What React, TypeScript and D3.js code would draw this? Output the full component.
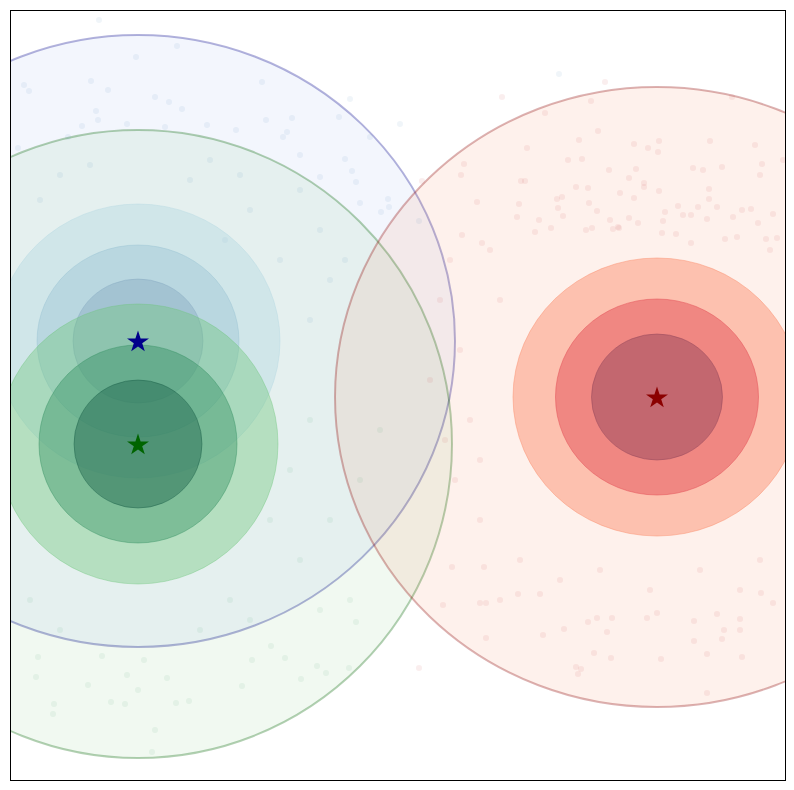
import React from "react";
import * as d3 from "d3";

// ---- data (data units) ----
const clusterNames = ["blue", "green", "red"];
const centersX = [1.28, 1.28, 6.47];
const centersY = [4.39, 3.36, 3.83];
// sigma rings [rx, ry] for 1,2,3
const ringsBlue = [[0.65, 0.62], [1.01, 0.96], [1.42, 1.37]];
const ringsGreen = [[0.64, 0.64], [0.99, 0.99], [1.40, 1.40]];
const ringsRed = [[0.655, 0.63], [1.015, 0.98], [1.44, 1.39]];
const outerRadii = [[3.17, 3.06], [3.14, 3.14], [3.22, 3.10]];

const blueX = [0.89,1.67,1.26,0.81,0.14,0.19,0.98,1.45,1.59,1.72,0.86,0.88,0.72,1.17,1.55,1.97,2.26,2.56,2.52,2.82,2.77,2.73,0.58,0.08,5.49,3.40,3.29,3.90,3.60,3.35,3.42,3.46,3.50,3.78,3.79,3.71,4.09,3.10,2.90,2.00,2.30,2.90,3.10,2.40,1.80,0.50,0.30,0.80,3.20,3.00,3.35,2.70,2.15];
const blueY = [7.60,7.34,7.23,6.99,6.95,6.89,6.90,6.83,6.78,6.71,6.69,6.60,6.54,6.56,6.53,6.55,6.50,6.60,6.98,6.62,6.48,6.43,6.43,6.32,7.06,6.81,6.63,6.56,6.43,6.21,6.09,5.98,5.77,5.81,5.73,5.68,5.59,6.03,6.25,6.20,6.05,5.90,5.50,5.70,6.00,6.05,5.80,6.15,5.00,4.60,5.20,5.20,5.40];
const greenX = [1.42,1.45,0.43,0.44,0.26,0.28,0.92,1.34,1.17,1.15,1.66,1.79,1.28,0.78,2.32,2.91,3.07,3.39,2.75,2.42,2.61,3.46,3.16,1.57,1.01,2.90,3.20,3.50,3.70,3.40,3.10,2.40,1.90,0.50,0.20,2.80,3.00,2.60,2.20];
const greenY = [0.28,0.50,0.66,0.76,1.03,1.23,1.24,1.20,1.05,0.76,0.77,0.79,0.90,0.95,0.94,1.01,1.14,1.12,1.22,1.20,1.34,1.58,1.07,1.02,0.78,2.20,2.60,3.00,3.50,1.80,1.70,1.60,1.50,1.50,1.80,3.10,3.60,2.60,1.80];
const redX = [5.95,4.92,5.35,5.81,7.22,5.88,5.69,6.24,6.38,6.49,6.48,7.00,7.45,7.52,7.50,7.12,6.83,6.93,6.26,6.19,5.99,5.72,5.58,5.17,4.54,4.51,4.12,4.67,5.11,5.15,5.66,5.78,6.10,6.34,6.34,6.49,6.99,6.99,6.24,7.73,7.63,7.32,7.41,6.88,7.07,6.68,6.55,6.73,6.81,6.97,7.23,7.48,6.53,6.28,6.19,6.09,6.00,5.79,5.87,5.47,5.52,5.48,5.53,5.29,5.41,5.25,5.07,5.09,4.52,4.72,5.76,5.82,6.03,6.08,6.52,6.66,7.15,7.27,7.56,7.67,6.81,
  6.97,6.51,6.01,5.68,5.66,5.71,5.84,7.32,6.97,6.84,7.12,7.14,7.30,7.30,7.07,6.84,6.47,6.37,5.97,5.54,5.33,5.78,5.87,6.02,7.63,7.51,5.08,5.30,4.09,4.42,4.74,4.33,4.70,4.76,4.76,
  4.30,4.50,4.60,4.45,4.70,4.20,4.90,4.80,5.10,5.50,5.90,6.90,7.50,7.60,4.70,4.35,4.90,6.40,7.30,4.40];
const redY = [6.98,6.83,6.67,6.79,6.83,6.49,6.40,6.36,6.32,6.39,6.28,6.39,6.35,6.16,6.05,6.13,6.12,6.10,6.11,6.02,6.10,6.21,6.20,6.32,6.16,6.05,5.99,5.78,5.99,5.99,5.93,5.92,5.87,5.97,5.93,5.89,5.91,5.81,5.82,6.20,5.66,5.70,5.71,5.73,5.73,5.74,5.68,5.65,5.65,5.61,5.63,5.57,5.59,5.57,5.62,5.52,5.60,5.77,5.69,5.81,5.83,5.72,5.64,5.60,5.52,5.48,5.63,5.76,5.45,5.37,5.50,5.52,5.51,5.53,5.47,5.46,5.41,5.43,5.41,5.42,5.37,
  0.87,1.21,1.22,1.06,1.13,1.11,1.27,1.23,1.26,1.39,1.41,1.50,1.50,1.61,1.66,1.59,1.67,1.62,1.48,1.51,1.45,1.58,1.62,1.62,1.77,1.87,1.86,1.86,1.12,2.13,2.13,1.75,1.77,1.77,1.42,
  4.80,4.30,3.60,3.00,2.60,4.00,4.80,5.30,2.20,2.00,2.10,2.10,2.20,5.30,3.20,3.40,1.80,1.90,1.90,5.20];

const W = 794, H = 790;
const M = { left: 10, top: 10, right: 785, bottom: 780 };

export default function App() {
  const x = d3.scaleLinear().domain([0, 7.75]).range([M.left, M.right]);
  const y = d3.scaleLinear().domain([0, 7.70]).range([M.bottom, M.top]);
  const sx = (r: number) => x(r) - x(0);
  const sy = (r: number) => y(0) - y(r);

  const rings = [ringsBlue, ringsGreen, ringsRed];
  const ringFills = [
    ["rgb(130,165,190)", "rgb(150,192,210)", "rgb(178,216,226)"],
    ["rgb(20,90,68)", "rgb(45,140,92)", "rgb(110,198,122)"],
    ["rgb(150,72,92)", "rgb(228,78,86)", "rgb(252,146,114)"],
  ];
  const ringAlpha = [0.4, 0.4, 0.5];
  const bigFill = ["rgb(80,120,225)", "rgb(40,160,40)", "rgb(245,120,70)"];
  const bigAlpha = [0.065, 0.065, 0.1];
  const bigStroke = ["#00008b", "#006400", "#8b0000"];
  const dotColor = ["steelblue", "seagreen", "indianred"];
  const dotAlpha = [0.08, 0.07, 0.1];
  const dotsX = [blueX, greenX, redX];
  const dotsY = [blueY, greenY, redY];
  const star = d3.symbol().type(d3.symbolStar).size(150)();

  return (
    <svg width={W} height={H} style={{ position: "absolute", left: 0, top: 0 }}>
      <defs>
        <clipPath id="ax">
          <rect x={M.left} y={M.top} width={M.right - M.left} height={M.bottom - M.top} />
        </clipPath>
      </defs>
      <rect x={0} y={0} width={W} height={H} fill="white" />
      <g clipPath="url(#ax)">
        {clusterNames.map((n, i) => (
          <ellipse key={"big" + n} cx={x(centersX[i])} cy={y(centersY[i])}
            rx={sx(outerRadii[i][0])} ry={sy(outerRadii[i][1])}
            fill={bigFill[i]} fillOpacity={bigAlpha[i]}
            stroke={bigStroke[i]} strokeOpacity={0.3} strokeWidth={2} />
        ))}
        {clusterNames.map((n, i) => (
          <g key={"dots" + n}>
            {dotsX[i].map((dx, j) => (
              <circle key={j} cx={x(dx)} cy={y(dotsY[i][j])} r={3}
                fill={dotColor[i]} fillOpacity={dotAlpha[i]} />
            ))}
          </g>
        ))}
        {clusterNames.map((n, i) => (
          <g key={"rings" + n}>
            {[2, 1, 0].map((k) => (
              <ellipse key={k} cx={x(centersX[i])} cy={y(centersY[i])}
                rx={sx(rings[i][k][0])} ry={sy(rings[i][k][1])}
                fill={ringFills[i][k]} fillOpacity={ringAlpha[i]}
                stroke={ringFills[i][k]} strokeOpacity={ringAlpha[i]} strokeWidth={1} />
            ))}
          </g>
        ))}
        {clusterNames.map((n, i) => (
          <path key={"star" + n} d={star || ""}
            transform={`translate(${x(centersX[i])},${y(centersY[i]) + 1})`}
            fill={bigStroke[i]} />
        ))}
      </g>
      <rect x={M.left + 0.5} y={M.top + 0.5} width={M.right - M.left} height={M.bottom - M.top}
        fill="none" stroke="black" strokeWidth={1} shapeRendering="crispEdges" />
    </svg>
  );
}
